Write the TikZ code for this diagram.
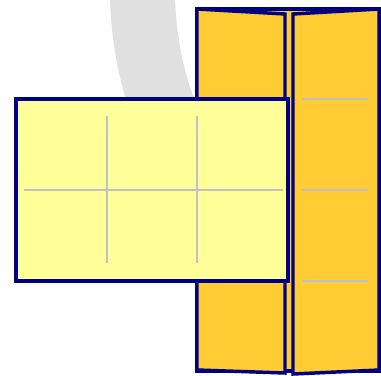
\documentclass[tikz,border=0pt]{standalone}
\usepackage{xcolor}
\usepackage{tikz}
\definecolor{navy}{HTML}{000080}
\definecolor{marigold}{HTML}{FFCC33}
\definecolor{paleyellow}{HTML}{FFFF99}
\definecolor{ringgray}{HTML}{E0E0E0}
\definecolor{guidegray}{HTML}{C0C0CC}
\tikzset{
  panelshape/.style={
    draw=navy, fill=#1, line width=2.6pt, line join=miter
  },
  panelshape/.default=marigold,
  guideline/.style={
    draw=guidegray, line width=1pt
  },
  ringband/.style={
    draw=ringgray, line width=48.75pt
  },
}

\begin{document}
\begin{tikzpicture}[x=0.75pt, y=-0.75pt]
  \useasboundingbox (0,0) rectangle (381,375);

  % Grey ring behind everything
  \draw[ringband] ([shift={(195:353.5)}]496,-10) arc[start angle=195, end angle=150, radius=353.5];

  % Back of folder
  \draw[panelshape] (197,9) rectangle (379,371);

  % Left panel
  \draw[panelshape] (197,9) -- (285,14) -- (285,373) -- (197,370) -- cycle;

  % Right panel
  \draw[panelshape] (293,14) -- (379,9) -- (379,370) -- (293,374) -- cycle;
  \foreach \y in {99,190,281}
    \draw[guideline] (302,\y) -- (368,\y);

  % Front sheet
  \draw[panelshape=paleyellow] (16,99) rectangle (288,281);
  \draw[guideline] (107,116) -- (107,263);
  \draw[guideline] (197,116) -- (197,263);
  \draw[guideline] (24,190) -- (283,190);
\end{tikzpicture}
\end{document}
